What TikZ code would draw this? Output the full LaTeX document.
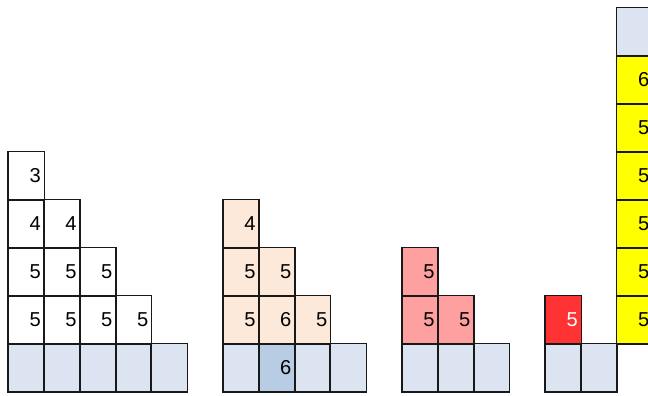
\documentclass[tikz,border=0pt]{standalone}
\usepackage{fontspec}
\setmainfont{Liberation Sans}
\usepackage{xcolor}
\definecolor{basecol}{RGB}{219,228,240}
\definecolor{basedark}{RGB}{184,204,228}
\definecolor{peach}{RGB}{253,233,217}
\definecolor{pink}{RGB}{255,160,160}
\definecolor{redcell}{RGB}{255,51,51}
\definecolor{yellowcell}{RGB}{255,255,0}
\pgfdeclarelayer{edges}
\pgfsetlayers{main,edges}

\begin{document}
\begin{tikzpicture}[x=1cm,y=1.34cm,font=\fontsize{16}{18}\selectfont,
  edge/.style={draw=black!90,line width=1.2pt},
  cell/.style={anchor=south west,minimum width=1cm,minimum height=1.34cm,
    inner xsep=0.09cm,inner ysep=0pt,text width=0.82cm,align=right,
    append after command={\pgfextra{\begin{pgfonlayer}{edges}
      \draw[edge] (\tikzlastnode.south west) rectangle (\tikzlastnode.north east);
      \end{pgfonlayer}}}},
  base/.style={cell,fill=basecol}]
\useasboundingbox (-0.2235,-0.083) rectangle (17.877,8.167);
% first group
\foreach \c in {0,...,4} \node[base] (a\c) at (\c,0) {};
\foreach \c in {0,...,3} \node[cell] (a\c-1) at (\c,1) {5};
\foreach \c in {0,...,2} \node[cell] (a\c-2) at (\c,2) {5};
\foreach \c in {0,1} \node[cell] (a\c-3) at (\c,3) {4};
\node[cell] (a0-4) at (0,4) {3};
% second group
\foreach \c in {6,8,9} \node[base] (b\c) at (\c,0) {};
\node[cell,fill=basedark] (b7) at (7,0) {6};
\foreach \c/\t in {6/5,7/6,8/5} \node[cell,fill=peach] (b\c-1) at (\c,1) {\t};
\foreach \c in {6,7} \node[cell,fill=peach] (b\c-2) at (\c,2) {5};
\node[cell,fill=peach] (b6-3) at (6,3) {4};
% third group
\foreach \c in {11,...,13} \node[base] (c\c) at (\c,0) {};
\foreach \c in {11,12} \node[cell,fill=pink] (c\c-1) at (\c,1) {5};
\node[cell,fill=pink] (c11-2) at (11,2) {5};
% fourth group
\foreach \c in {15,16} \node[base] (d\c) at (\c,0) {};
\node[cell,fill=redcell,text=white] (d15-1) at (15,1) {5};
% column on the right
\foreach \r/\t in {1/5,2/5,3/5,4/5,5/5,6/6} \node[cell,fill=yellowcell] (e\r) at (17,\r) {\t};
\node[base] (e7) at (17,7) {};
\end{tikzpicture}
\end{document}
